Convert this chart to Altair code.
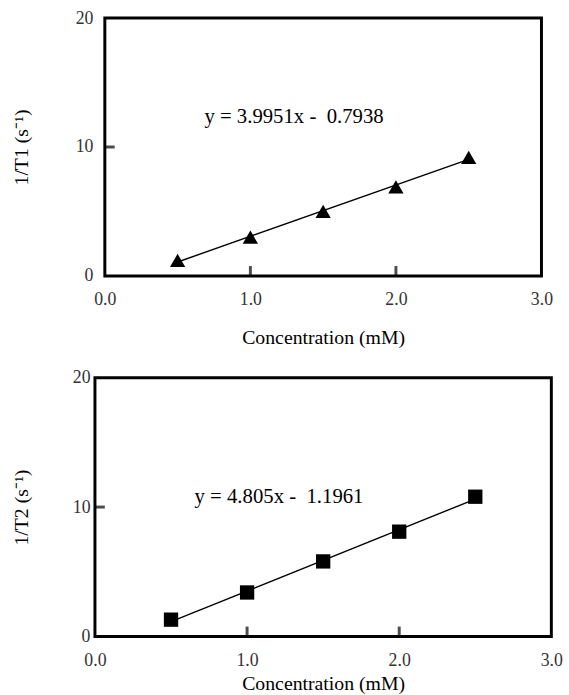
import altair as alt
import pandas as pd

# ---- data ----
conc = [0.5, 1.0, 1.5, 2.0, 2.5]
rate1 = [1.2, 3.0, 5.0, 6.9, 9.2]     # 1/T1 (s^-1)
rate2 = [1.3, 3.4, 5.8, 8.1, 10.8]    # 1/T2 (s^-1)
eq1_text = ["y = 3.9951x -\u00a0 0.7938"]
eq1_pos = [1.30, 12.3]
eq2_text = ["y = 4.805x -\u00a0 1.1961"]
eq2_pos = [1.21, 10.8]
x_tick_values = [0, 1, 2, 3]
y_tick_values = [0, 10, 20]
inner_x_ticks = [1, 2]
inner_y_ticks = [10]

FONT = "Liberation Serif"


def panel(values, ytitle, shape, size, eq_text, eq_pos, w, h,
          y_label_pad, y_title_pad, x_title_pad):
    df = pd.DataFrame({"conc": conc, "rate": values})
    xs = alt.Scale(domain=[0, 3], nice=False, zero=False)
    ys = alt.Scale(domain=[0, 20], nice=False)
    xax = alt.Axis(values=x_tick_values, format=".1f", title="Concentration (mM)",
                   grid=False, domain=False, ticks=False, labelPadding=15,
                   labelFlush=False, titlePadding=x_title_pad)
    yax = alt.Axis(values=y_tick_values, format="d", title=ytitle,
                   grid=False, domain=False, ticks=False, labelPadding=y_label_pad,
                   labelFlush=False, titlePadding=y_title_pad)

    base = alt.Chart(df)
    pts = base.mark_point(shape=shape, filled=True, size=size, color="black", opacity=1).encode(
        x=alt.X("conc:Q", scale=xs, axis=xax),
        y=alt.Y("rate:Q", scale=ys, axis=yax),
    )
    fit = base.transform_regression("conc", "rate", method="linear").mark_line(
        color="black", strokeWidth=1.4
    ).encode(x=alt.X("conc:Q", scale=xs), y=alt.Y("rate:Q", scale=ys))

    eq = alt.Chart(pd.DataFrame({"t": eq_text, "x": [eq_pos[0]], "y": [eq_pos[1]]})).mark_text(
        font=FONT, fontSize=21, color="black", align="center", baseline="middle"
    ).encode(x=alt.X("x:Q", scale=xs), y=alt.Y("y:Q", scale=ys), text="t:N")

    xt = alt.Chart(pd.DataFrame({"v": inner_x_ticks})).mark_tick(
        color="black", thickness=3, size=10, orient="vertical"
    ).encode(x=alt.X("v:Q", scale=xs), y=alt.value(h - 5))
    yt = alt.Chart(pd.DataFrame({"v": inner_y_ticks})).mark_tick(
        color="black", thickness=3, size=10, orient="horizontal"
    ).encode(y=alt.Y("v:Q", scale=ys), x=alt.value(5))

    return alt.layer(fit, pts, eq, xt, yt).properties(width=w, height=h)


top = panel(rate1, "1/T1 (s\u207b\u00b9)", "triangle-up", 240, eq1_text, eq1_pos,
            442, 261, 12, 44, 19)
bottom = panel(rate2, "1/T2 (s\u207b\u00b9)", "square", 210, eq2_text, eq2_pos,
               462, 262, 5, 41, 5)

chart = alt.vconcat(top, bottom, spacing=18, center=True).properties(
    padding={"left": 10, "top": 3, "right": 5, "bottom": 0}
).configure(
    background="white"
).configure_view(
    stroke="black", strokeWidth=3
).configure_axis(
    labelFont=FONT, labelFontSize=18, labelColor="#333333",
    titleFont=FONT, titleFontSize=20, titleFontWeight="normal", titleColor="black"
)

chart.save("out.html", embed_options={"renderer": "svg", "actions": False})
